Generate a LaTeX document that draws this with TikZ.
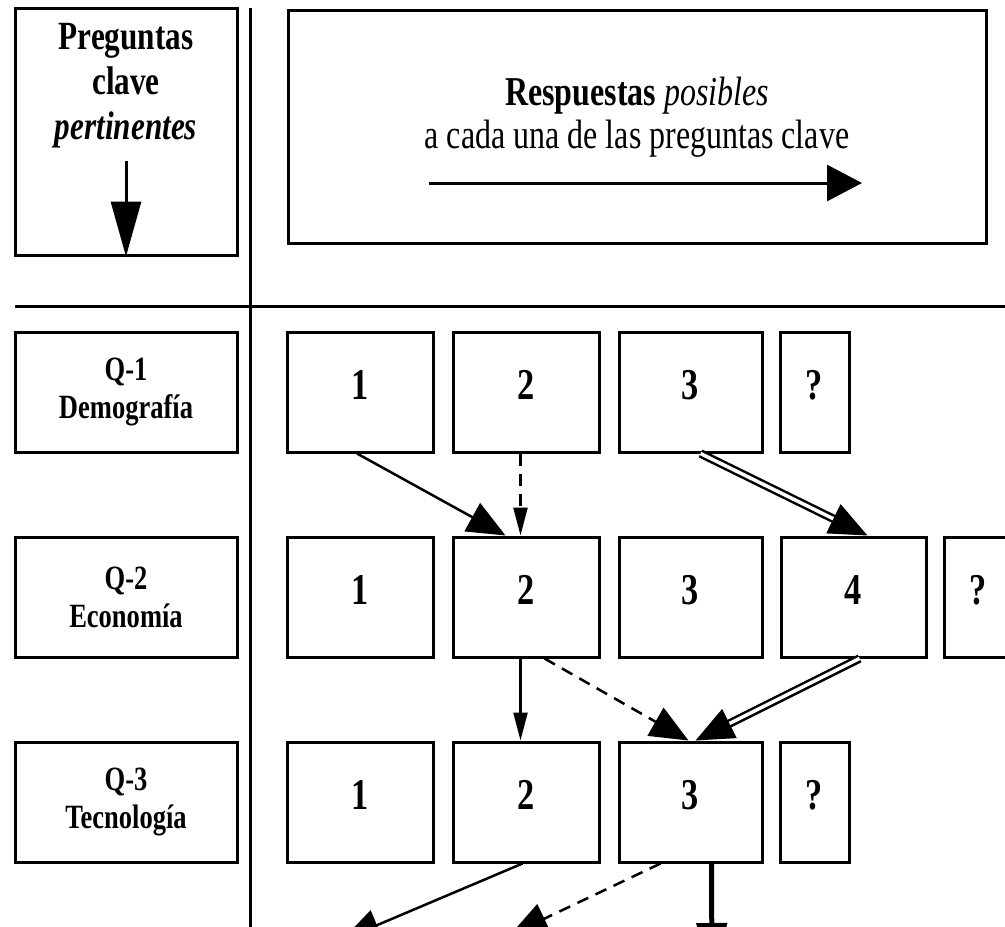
\documentclass[tikz,border=0pt]{standalone}
\usepackage{fontspec}
\setmainfont{Liberation Serif}[FakeStretch=0.78]
\usetikzlibrary{arrows.meta}
\tikzstyle{box} = [draw, line width=3pt, inner sep=0pt]
\tikzstyle{qbox} = [box, minimum width=222pt, minimum height=120pt, align=center, font=\bfseries\fontsize{34}{38}\selectfont]
\tikzstyle{abox} = [box, minimum height=120pt, text height=30pt, text depth=16pt, font=\bfseries\fontsize{44}{48}\selectfont]
\begin{document}
\begin{tikzpicture}[x=1pt,y=-1pt,
			wide/.style={abox,minimum width=146pt},
			small/.style={abox,minimum width=69pt},
			big/.style={-{Triangle[length=38pt,width=32pt]},line width=2.5pt},
			slim/.style={-{Triangle[length=28pt,width=14pt]},line width=2.5pt},
			dashline/.style={dash pattern=on 12pt off 8pt},
			dbl/.style={double,double distance=3.5pt,line width=2.5pt}]
			\useasboundingbox (0,0) rectangle (1005,927);
			\clip (0,0) rectangle (1005,927);
			% cabecera
			\node (hdr) [box,minimum width=222pt,minimum height=247pt] at (126,131.5) {};
			\node (hdrtxt) [anchor=north,align=center,inner sep=0pt,font=\bfseries\fontsize{40}{45}\selectfont] at (126,23) {Preguntas\\clave\\\textit{pertinentes}};
			\node (resp) [box,minimum width=698pt,minimum height=233pt] at (637,126.5) {};
			\node (resptxt) [anchor=north,align=center,inner sep=0pt,font=\fontsize{41}{43}\selectfont] at (637,77) {\textbf{Respuestas} \textit{posibles}\\a cada una de las preguntas clave};
			\coordinate (rs) at (429,183);
			\coordinate (re) at (862,183);
			\draw [-{Triangle[length=55pt,width=30pt]},line width=3pt] ([yshift=-13pt]hdrtxt.south) -- (hdr.south);
			\draw [-{Triangle[length=35pt,width=36pt]},line width=3pt] (rs) -- (re);
			\draw [line width=3pt] (250,8) -- (250,927);
			\draw [line width=3pt] (15,306) -- (1005,306);
			% preguntas
			\node (q1) [qbox] at (126,392) {Q-1\\Demografía};
			\node (q2) [qbox] at (126,597) {Q-2\\Economía};
			\node (q3) [qbox] at (126,802) {Q-3\\Tecnología};
			% respuestas
			\node (r1a1) [wide] at (360,392) {1};
			\node (r1a2) [wide] at (526.5,392) {2};
			\node (r1a3) [wide,minimum width=143pt] at (690.5,392) {3};
			\node (r1q) [small] at (814.5,392) {?};
			\node (r2a1) [wide] at (360,597) {1};
			\node (r2a2) [wide] at (526.5,597) {2};
			\node (r2a3) [wide,minimum width=143pt] at (690.5,597) {3};
			\node (r2a4) [wide,minimum width=145pt] at (853.5,597) {4};
			\node (r2q) [small] at (978.5,597) {?};
			\node (r3a1) [wide] at (360,802) {1};
			\node (r3a2) [wide] at (526.5,802) {2};
			\node (r3a3) [wide,minimum width=143pt] at (690.5,802) {3};
			\node (r3q) [small] at (814.5,802) {?};
			\coordinate (e1) at (342,940);
			\coordinate (e2) at (510,935);
			\coordinate (e3) at (712,978);
			\draw [big] ([xshift=-3pt]r1a1.south) -- ([xshift=-21pt]r2a2.north);
			\draw [slim,dashline] ([xshift=-6pt]r1a2.south) -- ([xshift=-6pt]r2a2.north);
			\draw [big,dbl] ([xshift=10pt]r1a3.south) -- ([xshift=14pt]r2a4.north);
			\draw [slim] ([xshift=-6pt]r2a2.south) -- ([xshift=-6pt]r3a2.north);
			\draw [big,dashline] ([xshift=18pt]r2a2.south) -- ([xshift=-2pt]r3a3.north);
			\draw [big,dbl] ([xshift=6pt]r2a4.south) -- ([xshift=5pt]r3a3.north);
			\draw [big] ([xshift=-4pt]r3a2.south) -- (e1);
			\draw [big,dashline] ([xshift=-30pt]r3a3.south) -- (e2);
			\draw [-{Triangle[length=55pt,width=30pt]},line width=5pt] ([xshift=21pt]r3a3.south) -- (e3);
\end{tikzpicture}
\end{document}
